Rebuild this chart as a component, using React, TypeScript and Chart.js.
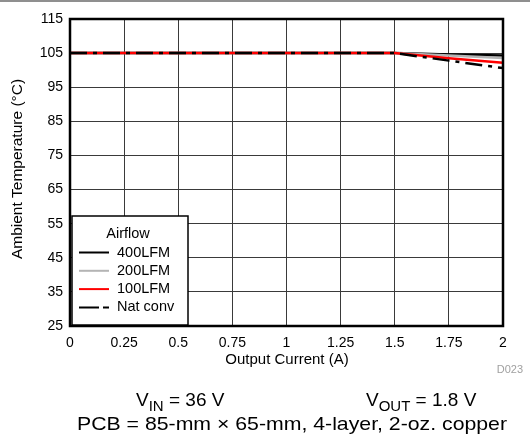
import React, { useEffect, useRef } from "react";
import { Chart, registerables } from "chart.js";

Chart.register(...registerables);

const FONT = '"Liberation Sans", Arial, Helvetica, sans-serif';

const currents = [0, 0.25, 0.5, 0.75, 1, 1.25, 1.5, 1.75, 2];
const lfm400 = [105, 105, 105, 105, 105, 105, 105, 104.6, 104.3];
const lfm200 = [105, 105, 105, 105, 105, 105, 105, 104.3, 103.6];
const lfm100 = [105, 105, 105, 105, 105, 105, 105, 103.5, 102.2];
const natConv = [105, 105, 105, 105, 105, 105, 105, 102.8, 100.6];

const seriesNames = ["400LFM", "200LFM", "100LFM", "Nat conv"];
const seriesColors = ["#000000", "#b4b4b4", "#ff0000", "#000000"];
const seriesDashes: number[][] = [[], [], [], [17, 6, 4, 6]];

const toPoints = (ys: number[]) => currents.map((x, i) => ({ x, y: ys[i] }));

const overlay = {
  id: "overlay",
  afterDraw(chart: any) {
    const { ctx, chartArea } = chart;
    const { left, right, top, bottom } = chartArea;
    ctx.save();

    // thin rule across the top of the figure
    ctx.strokeStyle = "#6a6a6a";
    ctx.lineWidth = 1.5;
    ctx.beginPath();
    ctx.moveTo(0, 1);
    ctx.lineTo(530, 1);
    ctx.stroke();

    // plot frame
    ctx.strokeStyle = "#000";
    ctx.lineWidth = 2.5;
    ctx.strokeRect(left, top, right - left, bottom - top);

    // axis titles
    ctx.fillStyle = "#000";
    ctx.font = `15px ${FONT}`;
    ctx.textAlign = "center";
    ctx.textBaseline = "middle";
    ctx.fillText("Output Current (A)", 287, 360);
    ctx.save();
    ctx.translate(18, 169);
    ctx.rotate(-Math.PI / 2);
    ctx.font = `15.5px ${FONT}`;
    ctx.fillText("Ambient Temperature (°C)", 0, 0);
    ctx.restore();

    ctx.fillStyle = "#a0a0a0";
    ctx.font = `11px ${FONT}`;
    ctx.textAlign = "right";
    ctx.fillText("D023", 523, 370);

    // legend
    const lx = 72, ly = 216, lw = 116, lh = 109;
    ctx.fillStyle = "#fff";
    ctx.fillRect(lx, ly, lw, lh);
    ctx.strokeStyle = "#000";
    ctx.lineWidth = 1.5;
    ctx.strokeRect(lx, ly, lw, lh);
    ctx.fillStyle = "#000";
    ctx.font = `14.5px ${FONT}`;
    ctx.textAlign = "center";
    ctx.fillText("Airflow", 128, 234);
    ctx.textAlign = "left";
    seriesNames.forEach((name, i) => {
      const y = 252.5 + i * 18.3;
      ctx.strokeStyle = seriesColors[i];
      ctx.lineWidth = 2;
      ctx.setLineDash(i === 3 ? [20, 4, 6, 20] : []);
      ctx.beginPath();
      ctx.moveTo(79, y);
      ctx.lineTo(109, y);
      ctx.stroke();
      ctx.setLineDash([]);
      ctx.fillStyle = "#000";
      ctx.fillText(name, 117, y);
    });

    // operating conditions
    const drawSub = (x: number, y: number, base: string, sub: string, rest: string) => {
      ctx.font = `19px ${FONT}`;
      ctx.textAlign = "left";
      ctx.textBaseline = "alphabetic";
      ctx.fillText(base, x, y);
      let w = ctx.measureText(base).width;
      ctx.font = `15px ${FONT}`;
      ctx.fillText(sub, x + w, y + 5);
      w += ctx.measureText(sub).width;
      ctx.font = `19px ${FONT}`;
      ctx.fillText(rest, x + w, y);
    };
    ctx.fillStyle = "#000";
    drawSub(136, 406, "V", "IN", " = 36 V");
    drawSub(366, 406, "V", "OUT", " = 1.8 V");

    const pcb = "PCB = 85-mm × 65-mm, 4-layer, 2-oz. copper";
    ctx.font = `19px ${FONT}`;
    ctx.textAlign = "left";
    ctx.textBaseline = "alphabetic";
    const natural = ctx.measureText(pcb).width;
    const target = 430;
    ctx.save();
    ctx.translate(77, 430);
    ctx.scale(target / natural, 1);
    ctx.fillText(pcb, 0, 0);
    ctx.restore();

    ctx.restore();
  },
};

export default function App() {
  const ref = useRef<HTMLCanvasElement>(null);

  useEffect(() => {
    document.body.style.margin = "0";
    const chart = new Chart(ref.current!, {
      type: "line",
      data: {
        datasets: [lfm400, lfm200, lfm100, natConv].map((ys, i) => ({
          label: seriesNames[i],
          data: toPoints(ys),
          borderColor: seriesColors[i],
          backgroundColor: seriesColors[i],
          borderWidth: 2.5,
          borderDash: seriesDashes[i],
          pointRadius: 0,
          tension: 0,
          order: 4 - i,
        })),
      },
      options: {
        animation: false,
        responsive: false,
        maintainAspectRatio: false,
        layout: { padding: { top: 19, right: 27, left: 0, bottom: 0 } },
        plugins: { legend: { display: false }, tooltip: { enabled: false } },
        scales: {
          x: {
            type: "linear",
            min: 0,
            max: 2,
            afterFit: (s: any) => {
              s.height = 114;
            },
            ticks: {
              stepSize: 0.25,
              color: "#000",
              font: { family: FONT, size: 14 },
              padding: 9,
              callback: (v: any) => String(Number(v)),
            },
            grid: { color: "#3a3a3a", lineWidth: 1, drawTicks: false },
            border: { display: false },
          },
          y: {
            min: 25,
            max: 115,
            afterFit: (s: any) => {
              s.width = 70;
            },
            ticks: {
              stepSize: 10,
              color: "#000",
              font: { family: FONT, size: 14 },
              padding: 7,
            },
            grid: { color: "#3a3a3a", lineWidth: 1, drawTicks: false },
            border: { display: false },
          },
        },
      },
      plugins: [overlay],
    });
    return () => chart.destroy();
  }, []);

  return <canvas ref={ref} width={530} height={440} style={{ display: "block" }} />;
}
